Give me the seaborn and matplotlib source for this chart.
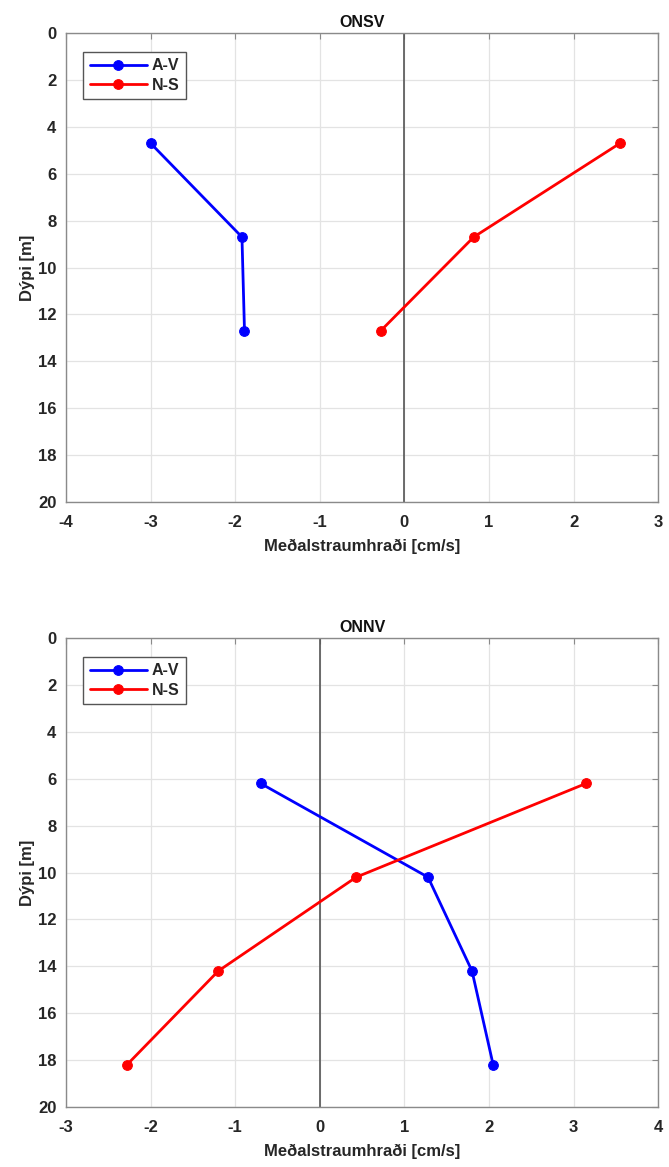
import numpy as np
import pandas as pd
import matplotlib
matplotlib.use("Agg")
import matplotlib.pyplot as plt
import seaborn as sns

# ONSV station
onsv_depth = [4.7, 8.7, 12.7]
onsv_av = [-3.0, -1.92, -1.89]
onsv_ns = [2.55, 0.82, -0.28]

# ONNV station
onnv_depth = [6.2, 10.2, 14.2, 18.2]
onnv_av = [-0.7, 1.28, 1.8, 2.05]
onnv_ns = [3.15, 0.43, -1.2, -2.28]

series_names = ["A-V", "N-S"]
series_colors = ["#0000ff", "#ff0000"]

sns.set_style("whitegrid")
plt.rcParams["font.family"] = ["Liberation Sans", "DejaVu Sans"]
plt.rcParams["font.weight"] = "bold"
plt.rcParams["axes.unicode_minus"] = False

fig = plt.figure(figsize=(6.69, 11.67), dpi=100)
ax1 = fig.add_axes([0.0987, 0.5698, 0.885, 0.4019])
ax2 = fig.add_axes([0.0987, 0.0514, 0.885, 0.4019])

panels = [
    (ax1, "ONSV", onsv_depth, [onsv_av, onsv_ns], (-4, 3)),
    (ax2, "ONNV", onnv_depth, [onnv_av, onnv_ns], (-3, 4)),
]

for ax, title, depth, vals, xl in panels:
    ax.axvline(0, color="#555555", lw=1.2, zorder=1)
    for name, col, v in zip(series_names, series_colors, vals):
        df = pd.DataFrame({"vel": v, "depth": depth})
        sns.lineplot(data=df, x="vel", y="depth", sort=False, color=col,
                     marker="o", markersize=7, markeredgecolor=col,
                     linewidth=2, label=name, ax=ax, zorder=3)
    ax.set_xlim(*xl)
    ax.set_ylim(20, 0)
    ax.set_xticks(np.arange(xl[0], xl[1] + 1, 1))
    ax.set_yticks(np.arange(0, 21, 2))
    ax.grid(True, color="#e3e3e3", lw=0.9)
    for s in ax.spines.values():
        s.set_color("#8a8a8a")
        s.set_linewidth(1)
    ax.tick_params(direction="in", length=4, top=True, right=True,
                   color="#8a8a8a", labelsize=12, labelcolor="#262626")
    ax.tick_params(axis="x", pad=9)
    ax.tick_params(axis="y", pad=7)
    for lab in ax.get_xticklabels() + ax.get_yticklabels():
        lab.set_fontweight("bold")
    ax.set_title(title, fontsize=11.5, fontweight="bold", color="#111111", pad=4)
    ax.set_xlabel("Meðalstraumhraði [cm/s]", fontsize=12, fontweight="bold",
                  color="#262626", labelpad=7)
    ax.set_ylabel("Dýpi [m]", fontsize=12, fontweight="bold", color="#262626",
                  labelpad=2)
    leg = ax.legend(loc="upper left", bbox_to_anchor=(0.029, 0.96),
                    fontsize=11.5, frameon=True, fancybox=False,
                    handlelength=3.6, borderpad=0.4, labelspacing=0.3,
                    handletextpad=0.3, borderaxespad=0.0)
    leg.get_frame().set_edgecolor("#555555")
    leg.get_frame().set_linewidth(1)
    leg.get_frame().set_alpha(1)
    for t in leg.get_texts():
        t.set_fontweight("bold")

fig.savefig("out.png", dpi=100)
